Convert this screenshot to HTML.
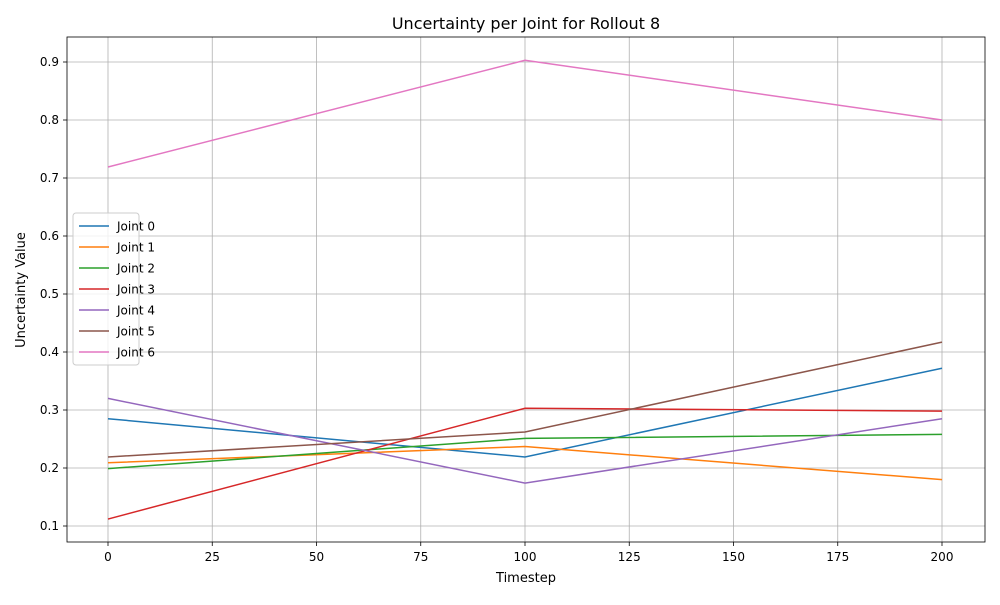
<!DOCTYPE html>
<html><head><meta charset="utf-8"><style>
body{margin:0;background:#fff;}
svg text{font-family:"DejaVu Sans","Liberation Sans",sans-serif;fill:#000;}
</style></head><body>
<svg id="chart" width="1000" height="600" xmlns="http://www.w3.org/2000/svg">
<rect width="1000" height="600" fill="#fff"/>
<g id="grid"></g>
<g id="series"></g>
<rect x="67" y="37" width="918" height="505" fill="none" stroke="#000" stroke-width="0.8"/>
<g id="axes"></g>
<text x="526" y="29" font-size="16" text-anchor="middle">Uncertainty per Joint for Rollout 8</text>
<text x="526" y="582" font-size="13" text-anchor="middle">Timestep</text>
<text x="25" y="290" font-size="13" text-anchor="middle" transform="rotate(-90 25 290)">Uncertainty Value</text>
<g id="legend"></g>
</svg>
<script>
const timesteps=[0,100,200];
const joint0=[0.285,0.219,0.372];
const joint1=[0.209,0.237,0.180];
const joint2=[0.199,0.251,0.258];
const joint3=[0.112,0.303,0.298];
const joint4=[0.320,0.174,0.285];
const joint5=[0.219,0.262,0.417];
const joint6=[0.719,0.903,0.800];
const seriesNames=["Joint 0","Joint 1","Joint 2","Joint 3","Joint 4","Joint 5","Joint 6"];
const xTicks=[0,25,50,75,100,125,150,175,200];
const yTicks=[0.1,0.2,0.3,0.4,0.5,0.6,0.7,0.8,0.9];
const allSeries=[joint0,joint1,joint2,joint3,joint4,joint5,joint6];
const colors=["#1f77b4","#ff7f0e","#2ca02c","#d62728","#9467bd","#8c564b","#e377c2"];
const NS="http://www.w3.org/2000/svg";
const xs=v=>108+(v-0)*(942-108)/200;
const ys=v=>526-(v-0.1)*(526-62)/0.8;
function mk(tag,attrs,parent){const e=document.createElementNS(NS,tag);for(const k in attrs)e.setAttribute(k,attrs[k]);parent.appendChild(e);return e;}
const grid=document.getElementById('grid'),axes=document.getElementById('axes'),ser=document.getElementById('series'),leg=document.getElementById('legend');
xTicks.forEach(t=>{const x=xs(t);
 const g=mk('line',{x1:x,x2:x,y1:37,y2:542,stroke:'#b0b0b0','stroke-width':0.8},grid);
 
 
 mk('line',{x1:x,x2:x,y1:542,y2:546,stroke:'#000','stroke-width':0.8},axes);
 const l=mk('text',{x:x,y:561,'font-size':12,'text-anchor':'middle'},axes);l.textContent=t;
 
 
});
yTicks.forEach(t=>{const y=ys(t);
 const g=mk('line',{x1:67,x2:985,y1:y,y2:y,stroke:'#b0b0b0','stroke-width':0.8},grid);
 
 
 mk('line',{x1:63,x2:67,y1:y,y2:y,stroke:'#000','stroke-width':0.8},axes);
 const l=mk('text',{x:59,y:y+4,'font-size':12,'text-anchor':'end'},axes);l.textContent=t.toFixed(1);
 
 
});
allSeries.forEach((s,i)=>{
 const p=mk('polyline',{points:s.map((v,j)=>xs(timesteps[j])+','+ys(v)).join(' '),fill:'none',stroke:colors[i],'stroke-width':1.5},ser);
 
 
});
const box=mk('rect',{x:73,y:213,width:66,height:152,rx:3,fill:'#fff','fill-opacity':0.8,stroke:'#ccc','stroke-width':1},leg);


seriesNames.forEach((n,i)=>{const y=226+i*21;
 const g=mk('g',{},leg);
 
 
 mk('line',{x1:79,x2:109,y1:y,y2:y,stroke:colors[i],'stroke-width':1.5},g);
 const t=mk('text',{x:117,y:y+4.5,'font-size':12},g);t.textContent=n;
});
</script>
</body></html>
